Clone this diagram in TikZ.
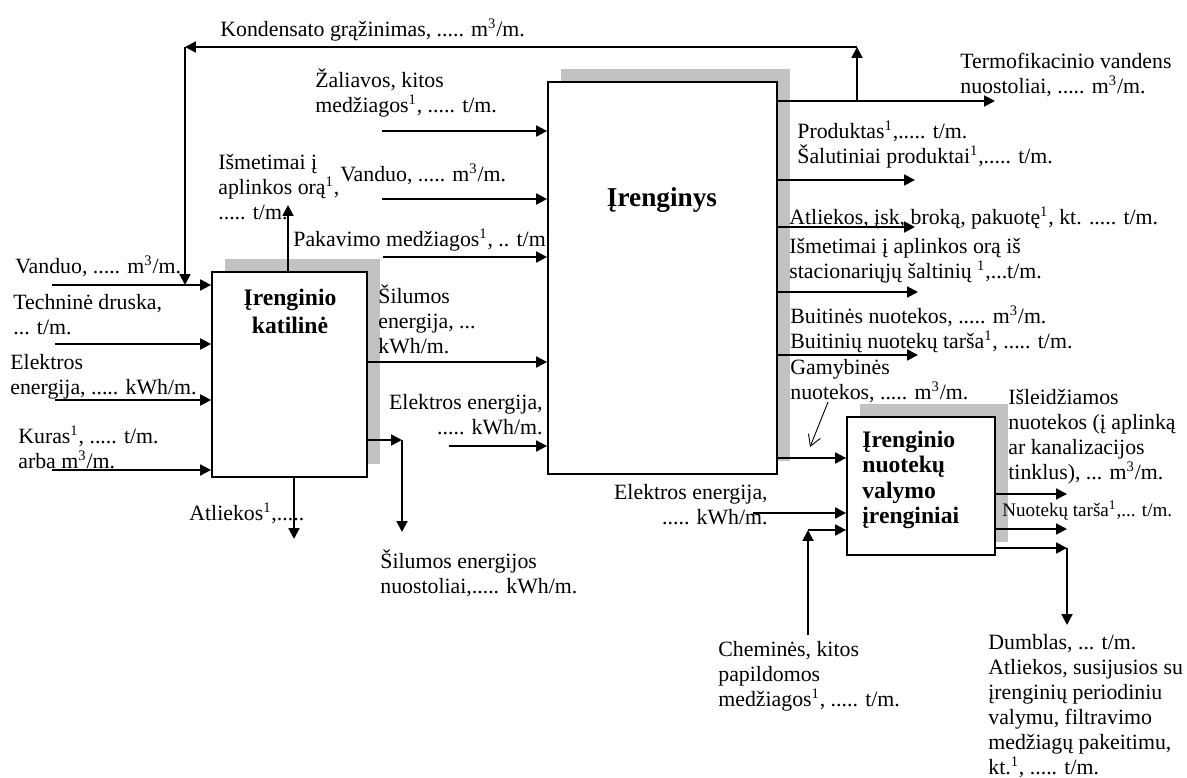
\documentclass[tikz,border=0pt]{standalone}
\usepackage{fontspec}
\setmainfont{Liberation Serif}
\usetikzlibrary{arrows.meta,shadows}
\newcommand{\kub}{m\textsuperscript{3}}
\newcommand{\vns}{\textsuperscript{1}}
\begin{document}
\begin{tikzpicture}[x=0.55pt, y=-0.55pt,
        unit_box/.style={draw, line width=1pt, fill=white, inner sep=0pt,
            drop shadow={shadow xshift=7.15pt, shadow yshift=7.15pt, fill=black!24, opacity=1}},
        title_text/.style={font=\fontsize{13pt}{15.4pt}\selectfont\bfseries, align=center, inner sep=0pt},
        flow_label/.style={font=\fontsize{12pt}{13.75pt}\selectfont, align=left, inner sep=0pt,
            anchor=north west, yshift=-3.3pt, execute at begin node={\rule{0pt}{11pt}}},
        flow_label_r/.style={flow_label, align=right, anchor=north east},
        flow/.style={line width=1.1pt, -{Triangle[length=6pt, width=6pt]}},
        thin_flow/.style={line width=0.5pt, -{Straight Barb[length=6pt, width=7pt]}}
    ]
        \useasboundingbox (0,0) rectangle (1187,778);

        % Units
        \node[unit_box, minimum width=85.25pt, minimum height=112.75pt] (katiline) at (289.5,374.5) {};
        \node[title_text] (katiline_title) at (290,311) {Įrenginio\\katilinė};
        \node[unit_box, minimum width=125.95pt, minimum height=215.6pt] (irenginys) at (662.5,278) {};
        \node[title_text, font=\fontsize{15pt}{17pt}\selectfont\bfseries] (irenginys_title) at (662,200) {Įrenginys};
        \node[unit_box, minimum width=81.4pt, minimum height=75.9pt] (valymas) at (921,486) {};
        \node[title_text, font=\fontsize{13pt}{13.9pt}\selectfont\bfseries, align=left, anchor=west] (valymas_title) at (862,480) {Įrenginio\\nuotekų\\valymo\\įrenginiai};

        % Boiler inputs and outputs
        \foreach \n/\x/\y in {a/52/285, b/55/344, c/55/400, d/52/470}{
            \coordinate (kin_\n) at (\x,\y);
            \draw[flow] (kin_\n) -- (kin_\n -| katiline.west);
        }
        \coordinate (kout_oras) at (288,205);
        \draw[flow] (kout_oras |- katiline.north) -- (kout_oras);
        \coordinate (kout_sil) at (402,440);
        \coordinate (kout_sil2) at (402,532);
        \draw[flow] (kout_sil -| katiline.east) -- (kout_sil);
        \draw[flow] (kout_sil) -- (kout_sil2);
        \coordinate (kout_atl) at (294,539);
        \draw[flow] (kout_atl |- katiline.south) -- (kout_atl);

        % Main unit inputs
        \foreach \n/\x/\y in {a/382/131, b/382/199, c/383/257, e/449/446}{
            \coordinate (iin_\n) at (\x,\y);
            \draw[flow] (iin_\n) -- (iin_\n -| irenginys.west);
        }
        \draw[flow] (katiline.east |- 0,362) -- (irenginys.west |- 0,362);

        % Main unit outputs
        \foreach \n/\x/\y in {a/995/101, b/915/180, c/915/227, d/918/292, e/918/355}{
            \coordinate (iout_\n) at (\x,\y);
            \draw[flow] (iout_\n -| irenginys.east) -- (iout_\n);
        }
        \draw[flow] (irenginys.east |- 0,458) -- (valymas.west |- 0,458);

        % Condensate return
        \coordinate (kond_r) at (857,47);
        \coordinate (kond_l) at (185,47);
        \draw[flow] (kond_r |- iout_a) -- (kond_r);
        \draw[flow] (kond_r) -- (kond_l);
        \draw[flow] (kond_l) -- (kond_l |- kin_a);

        % Treatment inputs and outputs
        \coordinate (vin_el) at (753,513);
        \draw[flow] (vin_el) -- (vin_el -| valymas.west);
        \coordinate (vin_chem) at (808,635);
        \coordinate (vin_chem2) at (808,530);
        \draw[flow] (vin_chem) -- (vin_chem2);
        \draw[flow] (vin_chem2) -- (vin_chem2 -| valymas.west);
        \foreach \n/\y in {a/494, b/529, c/548}{
            \coordinate (vout_\n) at (1067,\y);
            \draw[flow] (vout_\n -| valymas.east) -- (vout_\n);
        }
        \coordinate (vout_d) at (1067,625);
        \draw[flow] (vout_c) -- (vout_d);
        \coordinate (gam_a) at (828,402);
        \coordinate (gam_b) at (810,447);
        \draw[thin_flow] (gam_a) -- (gam_b);

        % Labels
        \node[flow_label] (kond) at (220,10) {Kondensato grąžinimas, ..... \kub/m.};
        \node[flow_label] (zal) at (315,62) {Žaliavos, kitos\\medžiagos\vns, ..... t/m.};
        \node[flow_label] (ism_k) at (218,148) {Išmetimai į\\aplinkos orą\vns,\\..... t/m.};
        \node[flow_label] (vand_i) at (340,155) {Vanduo, ..... \kub/m.};
        \node[flow_label] (pak) at (293,220) {Pakavimo medžiagos\vns, .. t/m};
        \node[flow_label] (vand_k) at (15,247) {Vanduo, ..... \kub/m.};
        \node[flow_label] (druska) at (13,288) {Techninė druska,\\... t/m.};
        \node[flow_label] (el_k) at (10,348) {Elektros\\energija, ..... kWh/m.};
        \node[flow_label] (kuras) at (18,420) {Kuras\vns, ..... t/m.\\arba \kub/m.};
        \node[flow_label] (atl_k) at (189,494) {Atliekos\vns,.....};
        \node[flow_label] (sil) at (378,278) {Šilumos\\energija, ...\\kWh/m.};
        \node[flow_label_r] (el_i) at (543,388) {Elektros energija,\\..... kWh/m.};
        \node[flow_label] (sil_nuost) at (380,543) {Šilumos energijos\\nuostoliai,..... kWh/m.};
        \node[flow_label] (termo) at (960,47) {Termofikacinio vandens\\nuostoliai, ..... \kub/m.};
        \node[flow_label] (prod) at (797,115) {Produktas\vns,..... t/m.\\Šalutiniai produktai\vns,..... t/m.};
        \node[flow_label] (atl_i) at (789,198) {Atliekos, įsk, broką, pakuotę\vns, kt. ..... t/m.};
        \node[flow_label] (ism_i) at (789,232) {Išmetimai į aplinkos orą iš\\stacionariųjų šaltinių \vns,...t/m.};
        \node[flow_label] (buit) at (790,300) {Buitinės nuotekos, ..... \kub/m.\\Buitinių nuotekų tarša\vns, ..... t/m.};
        \node[flow_label] (gam) at (790,353) {Gamybinės\\nuotekos, ..... \kub/m.};
        \node[flow_label_r] (el_v) at (768,478) {Elektros energija,\\..... kWh/m.};
        \node[flow_label] (isleid) at (1008,383) {Išleidžiamos\\nuotekos (į aplinką\\ar kanalizacijos\\tinklus), ... \kub/m.};
        \node[flow_label, font=\fontsize{10.5pt}{12pt}\selectfont] (tarsa) at (1002,490) {Nuotekų tarša\vns,... t/m.};
        \node[flow_label] (chem) at (718,635) {Cheminės, kitos\\papildomos\\medžiagos\vns, ..... t/m.};
        \node[flow_label] (dumb) at (988,628) {Dumblas, ... t/m.\\Atliekos, susijusios su\\įrenginių periodiniu\\valymu, filtravimo\\medžiagų pakeitimu,\\kt.\vns, ..... t/m.};
    \end{tikzpicture}
\end{document}
